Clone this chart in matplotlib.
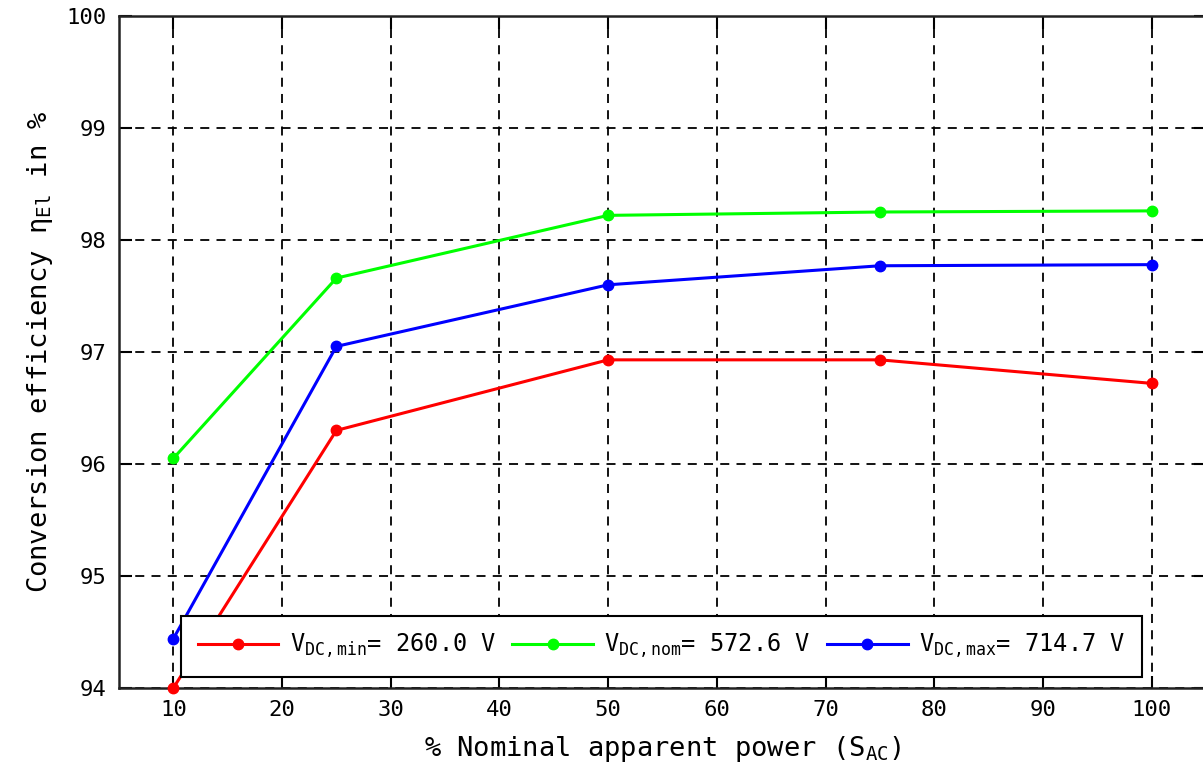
import numpy as np
import matplotlib.pyplot as plt

# 数据
power = [10, 25, 50, 75, 100]
eta_min = [94.00, 96.30, 96.93, 96.93, 96.72]
eta_nom = [96.05, 97.66, 98.22, 98.25, 98.26]
eta_max = [94.44, 97.05, 97.60, 97.77, 97.78]

labels = [r'V$_{\mathrm{DC,min}}$= 260.0 V',
          r'V$_{\mathrm{DC,nom}}$= 572.6 V',
          r'V$_{\mathrm{DC,max}}$= 714.7 V']
colors = ['#ff0000', '#00ff00', '#0000ff']

plt.rcParams['font.family'] = ['DejaVu Sans Mono']
plt.rcParams['mathtext.fontset'] = 'custom'
plt.rcParams['mathtext.rm'] = 'DejaVu Sans Mono'
plt.rcParams['mathtext.it'] = 'DejaVu Sans Mono'

fig = plt.figure(figsize=(12.03, 7.72), dpi=100)
ax = fig.add_axes([119 / 1203, 1 - 688 / 772, 1087 / 1203, 672 / 772])

for y, c, lab in zip([eta_min, eta_nom, eta_max], colors, labels):
    ax.plot(power, y, color=c, lw=2.2, marker='o', ms=7.5, label=lab, clip_on=False, zorder=3)

ax.set_xlim(5, 105)
ax.set_ylim(94, 100)
ax.set_xticks(np.arange(10, 101, 10))
ax.set_yticks(np.arange(94, 101, 1))
ax.grid(True, color='black', ls=(0, (5, 4)), lw=1.3)
ax.tick_params(direction='in', length=9, width=1.5, labelsize=16, top=True, right=True, pad=9)
for s in ax.spines.values():
    s.set_linewidth(1.8)
    s.set_color('#222222')

# 添加标签
ax.set_xlabel(r'% Nominal apparent power (S$_{\mathrm{AC}}$)', fontsize=19.5, labelpad=10)
ax.set_ylabel(r'Conversion efficiency η$_{\mathrm{El}}$ in %', fontsize=19.5, labelpad=8)

leg = ax.legend(loc='lower left', bbox_to_anchor=(181 / 1203, 1 - 677 / 772),
                bbox_transform=fig.transFigure, ncol=3, fontsize=17,
                frameon=True, fancybox=False, edgecolor='black', framealpha=1,
                handlelength=3.4, borderaxespad=0, borderpad=0.7,
                columnspacing=0.7, handletextpad=0.5)
leg.get_frame().set_linewidth(1.5)

fig.savefig('out.png', dpi=100)
